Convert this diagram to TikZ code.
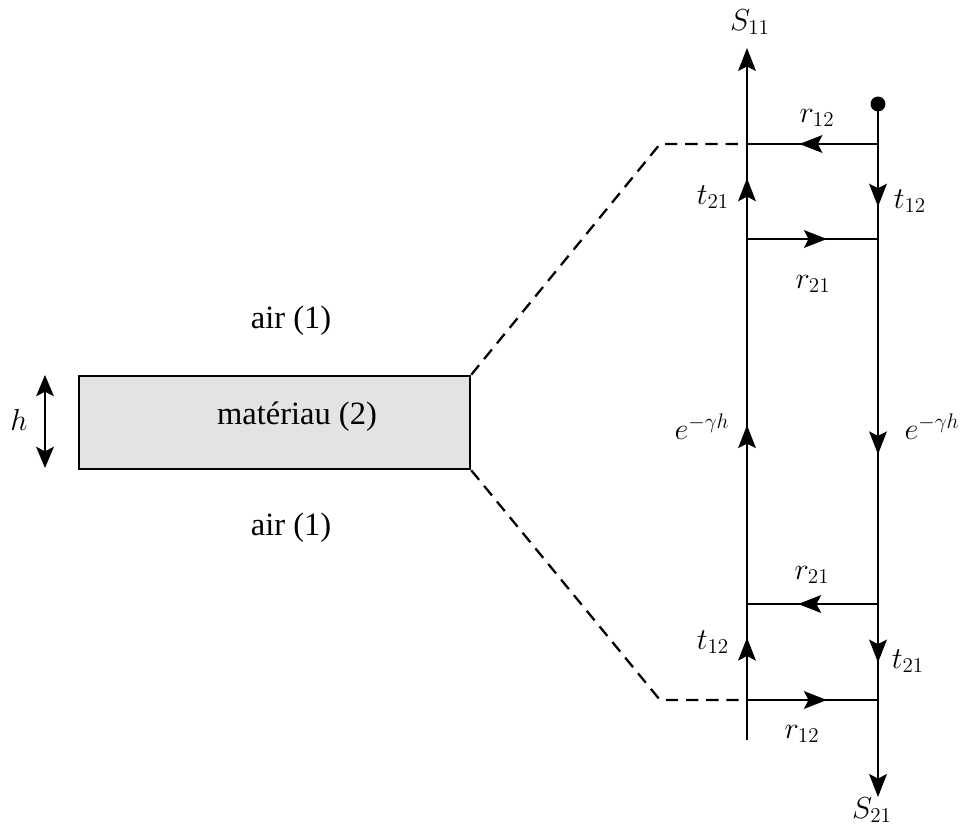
\documentclass[tikz,border=0pt]{standalone}
\usepackage{fontspec}
\setmainfont{Liberation Serif}
\usetikzlibrary{arrows.meta, decorations.markings, positioning}
\tikzset{
  wire/.style={line width=1.5pt},
  endtip/.style={-{Stealth[length=13pt, width=10pt, inset=2.5pt]}},
  midtip/.style={postaction={decorate},
                 decoration={markings, mark=at position #1 with {\arrow{Stealth[length=13pt, width=10pt, inset=2.5pt]}}}},
  link/.style={line width=1.3pt, dash pattern=on 7pt off 4.5pt},
  lbl/.style={font=\fontsize{17.5}{20}\selectfont, inner sep=0pt},
  txt/.style={font=\fontsize{18.5}{22}\selectfont, inner sep=0pt},
  slab/.style={rectangle, draw, line width=1.5pt, fill=black!11, minimum width=7.82cm, minimum height=1.86cm},
}
\begin{document}
\begin{tikzpicture}[x=0.02cm, y=-0.02cm]
  \useasboundingbox (0,0) rectangle (960,829);
  % material slab
  \node[slab] (mat) at (274.5,422.5) {};
  \node[txt] (matlbl) at (297,417) {matériau (2)};
  \node[txt] (airtop) at (291,321) {air (1)};
  \node[txt] (airbot) at (291,528) {air (1)};
  \coordinate (htop) at (45,375);
  \coordinate (hbot) at (45,468);
  \draw[wire, {Stealth[length=12pt, width=10pt, inset=2.5pt]}-{Stealth[length=12pt, width=10pt, inset=2.5pt]}] (htop) -- (hbot);
  \node[lbl] (hlbl) at (19,420) {$h$};
  % flow graph
  \coordinate (L0) at (747,48);
  \coordinate (L1) at (747,144);
  \coordinate (L2) at (747,239);
  \coordinate (L3) at (747,604);
  \coordinate (L4) at (747,700);
  \coordinate (L5) at (747,740);
  \node[circle, fill, inner sep=0pt, minimum size=8.5pt] (src) at (878,104) {};
  \coordinate (R1) at (878,144);
  \coordinate (R2) at (878,239);
  \coordinate (R3) at (878,604);
  \coordinate (R4) at (878,700);
  \coordinate (R5) at (878,797);
  % left branch
  \draw[wire] (L5) -- (L4);
  \draw[wire, midtip=0.65] (L4) -- (L3);
  \draw[wire, midtip=0.49] (L3) -- (L2);
  \draw[wire, midtip=0.64] (L2) -- (L1);
  \draw[wire, endtip] (L1) -- (L0);
  % right branch
  \draw[wire] (src.center) -- (R1);
  \draw[wire, midtip=0.66] (R1) -- (R2);
  \draw[wire, midtip=0.59] (R2) -- (R3);
  \draw[wire, midtip=0.61] (R3) -- (R4);
  \draw[wire, endtip] (R4) -- (R5);
  % rungs
  \draw[wire, midtip=0.6] (R1) -- (L1);
  \draw[wire, midtip=0.61] (L2) -- (R2);
  \draw[wire, midtip=0.61] (R3) -- (L3);
  \draw[wire, midtip=0.61] (L4) -- (R4);
  % dashed links
  \coordinate (D1) at (660,144);
  \coordinate (D2) at (660,700);
  \draw[link] (mat.north east) -- (D1) -- (L1);
  \draw[link] (mat.south east) -- (D2) -- (L4);
  % labels
  \node[lbl] (s11) at (750,22) {$S_{11}$};
  \node[lbl] (s21) at (872,810) {$S_{21}$};
  \node[lbl] (r12a) at (817,118) {$r_{12}$};
  \node[lbl] (t21a) at (713,197) {$t_{21}$};
  \node[lbl] (t12a) at (910,201) {$t_{12}$};
  \node[lbl] (r21a) at (813,284) {$r_{21}$};
  \node[lbl] (gl) at (702,427) {$e^{-\gamma h}$};
  \node[lbl] (gr) at (932,427) {$e^{-\gamma h}$};
  \node[lbl] (r21b) at (812,575) {$r_{21}$};
  \node[lbl] (t12b) at (713,642) {$t_{12}$};
  \node[lbl] (t21b) at (908,661) {$t_{21}$};
  \node[lbl] (r12b) at (802,734) {$r_{12}$};
\end{tikzpicture}
\end{document}
